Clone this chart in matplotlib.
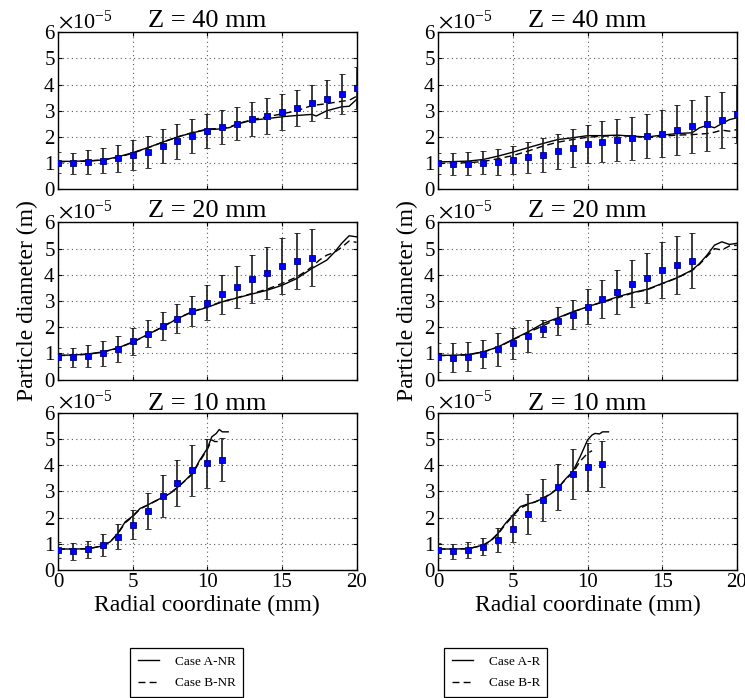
import matplotlib
matplotlib.use("Agg")
import matplotlib.pyplot as plt

plt.rcParams['font.family'] = ['Liberation Serif', 'DejaVu Serif']
plt.rcParams['mathtext.fontset'] = 'stix'

titles = ["Z = 40 mm", "Z = 20 mm", "Z = 10 mm"]
xticks = [0, 5, 10, 15, 20]
yticks = [0, 1, 2, 3, 4, 5, 6]

# measurements (values in 1e-5 m)
r40 = list(range(0, 21))
r20 = list(range(0, 18))
r10 = list(range(0, 12))

nr40_mean = [1.02, 0.99, 1.04, 1.09, 1.18, 1.32, 1.43, 1.64, 1.84, 2.04, 2.23,
             2.37, 2.51, 2.68, 2.80, 2.94, 3.11, 3.29, 3.45, 3.63, 3.88]
nr40_err = [0.40, 0.41, 0.46, 0.48, 0.52, 0.58, 0.62, 0.65, 0.67, 0.66, 0.65,
            0.64, 0.64, 0.66, 0.70, 0.69, 0.68, 0.70, 0.73, 0.77, 0.80]
r40_mean = [0.99, 0.96, 0.98, 1.02, 1.05, 1.12, 1.22, 1.32, 1.45, 1.57, 1.73,
            1.81, 1.88, 1.95, 2.03, 2.13, 2.26, 2.40, 2.50, 2.66, 2.88]
r40_err = [0.40, 0.41, 0.43, 0.45, 0.50, 0.55, 0.60, 0.64, 0.68, 0.72, 0.74,
           0.78, 0.80, 0.83, 0.85, 0.90, 0.95, 1.00, 1.05, 1.07, 1.10]

nr20_mean = [0.85, 0.85, 0.89, 1.00, 1.18, 1.46, 1.76, 2.04, 2.33, 2.62, 2.93,
             3.25, 3.54, 3.85, 4.08, 4.33, 4.54, 4.66]
nr20_err = [0.37, 0.37, 0.42, 0.47, 0.50, 0.52, 0.52, 0.53, 0.55, 0.58, 0.67,
            0.76, 0.80, 0.92, 0.99, 1.06, 1.07, 1.07]
r20_mean = [0.85, 0.84, 0.88, 0.98, 1.16, 1.39, 1.66, 1.95, 2.24, 2.48, 2.79,
            3.08, 3.35, 3.66, 3.89, 4.19, 4.39, 4.54]
r20_err = [0.55, 0.55, 0.54, 0.55, 0.62, 0.60, 0.62, 0.32, 0.52, 0.55, 0.66,
           0.73, 0.83, 0.90, 0.96, 1.06, 1.11, 1.06]

nr10_mean = [0.75, 0.72, 0.79, 0.94, 1.27, 1.72, 2.26, 2.83, 3.32, 3.80, 4.07, 4.21]
nr10_err = [0.30, 0.32, 0.33, 0.42, 0.48, 0.55, 0.69, 0.81, 0.89, 0.98, 0.93, 0.83]
r10_mean = [0.75, 0.71, 0.76, 0.89, 1.14, 1.58, 2.12, 2.68, 3.16, 3.65, 3.93, 4.04]
r10_err = [0.28, 0.29, 0.32, 0.33, 0.46, 0.53, 0.76, 0.81, 0.87, 0.95, 0.93, 0.87]

# simulations
sim40_x = [0, 1, 2, 3, 4, 5, 6, 7, 8, 9, 10, 11, 11.5, 12, 13, 14, 15, 16, 17,
           17.3, 18, 19, 19.5, 20]
nrA40 = [1.07, 1.07, 1.09, 1.12, 1.24, 1.40, 1.59, 1.80, 2.00, 2.16, 2.28, 2.31,
         2.36, 2.49, 2.64, 2.70, 2.77, 2.82, 2.86, 2.80, 3.00, 3.15, 3.17, 3.43]
nrB40 = [1.05, 1.06, 1.08, 1.12, 1.22, 1.38, 1.58, 1.80, 2.00, 2.17, 2.30, 2.33,
         2.38, 2.50, 2.66, 2.77, 2.88, 3.00, 3.20, 3.22, 3.27, 3.36, 3.40, 3.55]
sim40r_x = [0, 1, 2, 3, 4, 5, 6, 7, 8, 9, 10, 11, 12, 13, 14, 15, 16, 17, 17.5,
            18, 18.5, 19, 19.5, 20]
rA40 = [1.05, 1.06, 1.08, 1.14, 1.27, 1.42, 1.59, 1.75, 1.90, 1.97, 2.05, 2.05,
        2.07, 2.03, 2.00, 2.07, 2.13, 2.16, 2.35, 2.44, 2.35, 2.51, 2.66, 2.73]
rB40 = [0.99, 1.00, 1.02, 1.06, 1.17, 1.29, 1.46, 1.65, 1.80, 1.90, 1.99, 2.03,
        2.05, 2.03, 1.97, 2.03, 2.07, 2.09, 2.11, 2.13, 2.18, 2.26, 2.22, 2.28]

sim20_x = [0, 1, 2, 3, 4, 5, 6, 7, 8, 9, 10, 11, 12, 13, 14, 15, 16, 16.5, 17,
           17.5, 18, 18.5, 19, 19.5, 20]
nrA20 = [0.93, 0.94, 0.98, 1.06, 1.21, 1.44, 1.72, 2.01, 2.33, 2.59, 2.76, 2.97,
         3.12, 3.27, 3.41, 3.60, 3.86, 4.05, 4.24, 4.40, 4.56, 4.85, 5.20, 5.49, 5.45]
nrB20 = [0.92, 0.93, 0.97, 1.05, 1.20, 1.43, 1.71, 2.02, 2.34, 2.60, 2.78, 2.98,
         3.13, 3.29, 3.45, 3.67, 3.92, 4.10, 4.30, 4.56, 4.75, 4.85, 5.05, 5.29, 5.24]
sim20r_x = [0, 1, 2, 3, 4, 5, 6, 7, 8, 9, 10, 11, 12, 13, 14, 15, 16, 17, 17.5,
            18, 18.5, 19, 19.5, 20]
rA20 = [0.93, 0.93, 0.96, 1.06, 1.25, 1.54, 1.82, 2.14, 2.36, 2.59, 2.78, 2.97,
        3.16, 3.32, 3.45, 3.67, 3.89, 4.18, 4.43, 4.75, 5.13, 5.26, 5.16, 5.20]
rB20 = [0.92, 0.92, 0.95, 1.05, 1.24, 1.52, 1.80, 2.05, 2.34, 2.58, 2.78, 2.96,
        3.12, 3.30, 3.43, 3.66, 3.88, 4.16, 4.40, 4.70, 5.00, 4.95, 5.10, 5.13]

sim10_x = [0, 1, 2, 3, 3.5, 4, 4.5, 5, 5.5, 6, 6.5, 7, 7.5, 8, 8.5, 9, 9.5, 10,
           10.3, 10.6, 10.8, 11, 11.4]
nrA10 = [0.80, 0.80, 0.81, 0.92, 1.08, 1.40, 1.84, 2.06, 2.35, 2.48, 2.63, 2.77,
         2.92, 3.15, 3.41, 3.69, 4.20, 4.64, 5.08, 5.21, 5.36, 5.27, 5.27]
sim10b_x = [0, 1, 2, 3, 3.5, 4, 4.5, 5, 5.5, 6, 6.5, 7, 7.5, 8, 8.5, 9, 9.5, 10,
            10.3, 10.5, 10.8]
nrB10 = [0.80, 0.80, 0.81, 0.92, 1.08, 1.38, 1.80, 2.04, 2.33, 2.47, 2.62, 2.76,
         2.92, 3.15, 3.40, 3.66, 4.15, 4.60, 4.96, 4.90, 4.90]
sim10r_x = [0, 1, 2, 3, 3.5, 4, 4.5, 5, 5.5, 6, 6.5, 7, 7.5, 8, 8.5, 9, 9.5, 10,
            10.3, 10.5, 10.8, 11, 11.4]
rA10 = [0.80, 0.80, 0.81, 0.95, 1.12, 1.40, 1.78, 2.10, 2.42, 2.52, 2.60, 2.73,
        2.89, 3.11, 3.46, 3.75, 4.32, 4.96, 5.15, 5.21, 5.19, 5.27, 5.27]
sim10rb_x = [0, 1, 2, 3, 3.5, 4, 4.5, 5, 5.5, 6, 6.5, 7, 7.5, 8, 8.5, 9, 9.5, 10, 10.3]
rB10 = [0.80, 0.80, 0.81, 0.94, 1.10, 1.37, 1.74, 2.06, 2.36, 2.50, 2.60, 2.74,
        2.90, 3.12, 3.44, 3.70, 4.15, 4.45, 4.55]

panels = [
    [(r40, nr40_mean, nr40_err, sim40_x, nrA40, sim40_x, nrB40),
     (r40, r40_mean, r40_err, sim40r_x, rA40, sim40r_x, rB40)],
    [(r20, nr20_mean, nr20_err, sim20_x, nrA20, sim20_x, nrB20),
     (r20, r20_mean, r20_err, sim20r_x, rA20, sim20r_x, rB20)],
    [(r10, nr10_mean, nr10_err, sim10_x, nrA10, sim10b_x, nrB10),
     (r10, r10_mean, r10_err, sim10r_x, rA10, sim10rb_x, rB10)],
]
legend_labels = [["Case A-NR", "Case B-NR"], ["Case A-R", "Case B-R"]]

s = 1e-5
fig, axes = plt.subplots(3, 2, figsize=(7.45, 6.98), dpi=100)
fig.subplots_adjust(left=0.078, right=0.989, top=0.954, bottom=0.1834,
                    wspace=0.274, hspace=0.21)

handles = [[], []]
for i in range(3):
    for j in range(2):
        ax = axes[i, j]
        xr, ym, ye, xa, ya, xb, yb = panels[i][j]
        la, = ax.plot(xa, [v * s for v in ya], color='black', lw=1.0,
                      label=legend_labels[j][0])
        lb, = ax.plot(xb, [v * s for v in yb], color='black', lw=1.0,
                      dashes=(5, 3), label=legend_labels[j][1])
        ax.errorbar(xr, [v * s for v in ym], yerr=[v * s for v in ye],
                    fmt='s', color='black', ecolor='#1a1a1a', elinewidth=1.2,
                    capsize=2, capthick=1.0, markersize=4.5,
                    markerfacecolor='#0000ff', markeredgecolor='#000080',
                    markeredgewidth=0.6, zorder=3)
        if i == 0:
            handles[j] = [la, lb]
        ax.set_xlim(0, 20)
        ax.set_ylim(0, 6e-5)
        ax.set_xticks(xticks)
        ax.set_yticks([v * s for v in yticks])
        ax.ticklabel_format(style='sci', axis='y', scilimits=(0, 0), useMathText=True)
        ax.yaxis.get_offset_text().set_fontsize(16)
        ax.grid(True, linestyle=(0, (1, 3)), color='0.35', linewidth=0.8)
        ax.tick_params(direction='in', length=3, width=0.8, top=True, right=True,
                       labelsize=15, pad=2)
        if i < 2:
            ax.tick_params(labelbottom=False)
        else:
            ax.set_xlabel("Radial coordinate (mm)", fontsize=17, labelpad=2)
        if i == 1:
            ax.set_ylabel("Particle diameter (m)", fontsize=17, labelpad=4)
        ax.set_title(titles[i], fontsize=19, pad=2)
        for sp in ax.spines.values():
            sp.set_linewidth(1.0)

leg_pos = [(129 / 745, 0.0), (443 / 745, 0.0)]
for j in range(2):
    leg = fig.legend(handles=handles[j], loc='lower left', bbox_to_anchor=leg_pos[j],
                     fontsize=9.5, frameon=True, fancybox=False, framealpha=1,
                     edgecolor='black', handlelength=1.6, handletextpad=1.2,
                     borderpad=0.55, labelspacing=0.7, borderaxespad=0.1)
    leg.get_frame().set_linewidth(0.9)

fig.savefig("out.png", dpi=100)
